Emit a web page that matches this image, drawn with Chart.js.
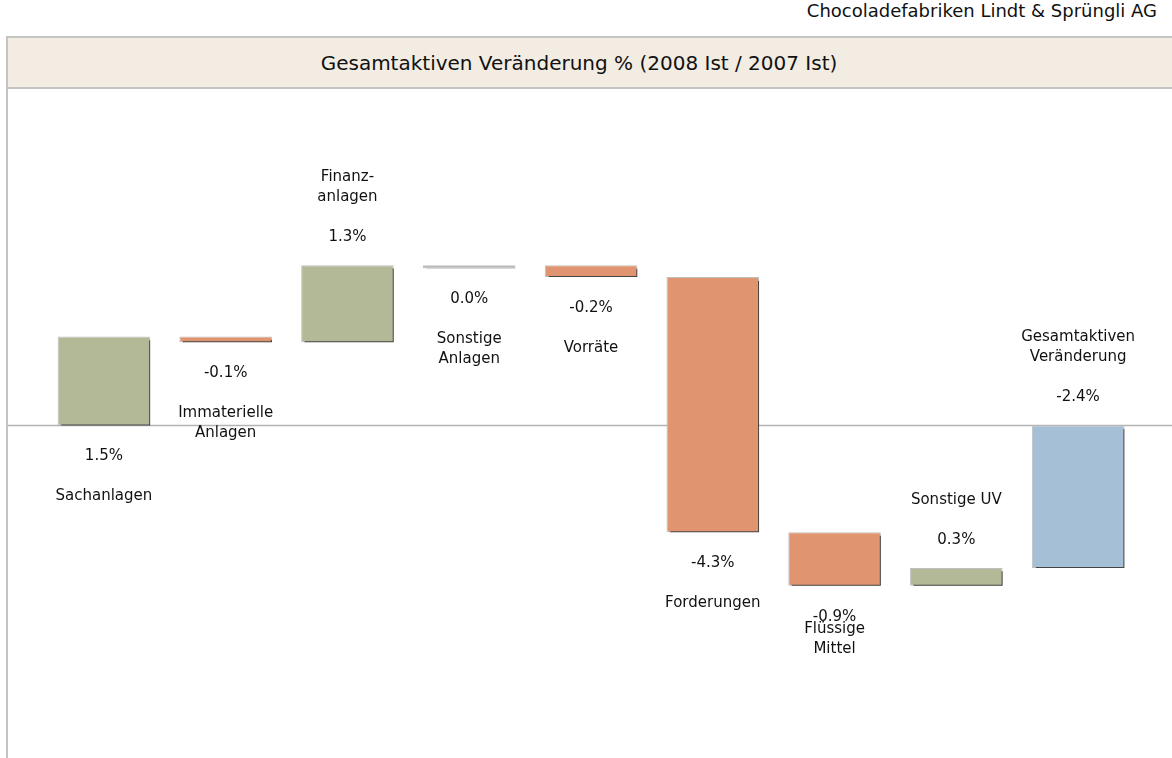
<!DOCTYPE html>
<html>
<head>
<meta charset="utf-8">
<script src="https://cdn.jsdelivr.net/npm/chart.js@4/dist/chart.umd.min.js"></script>
<style>
  body { margin: 0; width: 1172px; height: 758px; background: #fff; overflow: hidden;
         font-family: "DejaVu Sans", sans-serif; position: relative; }
  #company { position: absolute; right: 15px; top: 0px; font-size: 18px; color: #111; }
  #head { position: absolute; left: 6px; top: 36px; width: 1170px; height: 53px;
          background: #f3ece2; border-top: 2px solid #c4c4c4; border-bottom: 2px solid #c4c4c4;
          border-left: 2px solid #c4c4c4; box-sizing: border-box;
          font-size: 20px; color: #111; text-align: center; line-height: 50px; padding-right: 26px; }
  #vline { position: absolute; left: 6px; top: 89px; width: 2px; height: 669px; background: #c4c4c4; }
  #wrap { position: absolute; left: 8px; top: 90px; width: 1164px; height: 668px; }
</style>
</head>
<body>
<div id="company">Chocoladefabriken Lindt &amp; Sprüngli AG</div>
<div id="head">Gesamtaktiven Veränderung % (2008 Ist / 2007 Ist)</div>
<div id="vline"></div>
<div id="wrap"><canvas id="chart"></canvas></div>
<script>
var categories = [
    ["Sachanlagen"],
    ["Immaterielle", "Anlagen"],
    ["Finanz-", "anlagen"],
    ["Sonstige", "Anlagen"],
    ["Vorräte"],
    ["Forderungen"],
    ["Flüssige", "Mittel"],
    ["Sonstige UV"],
    ["Gesamtaktiven", "Veränderung"]
];
var changes = [1.5, -0.1, 1.3, 0.0, -0.2, -4.3, -0.9, 0.3];
var total = -2.4;
var labelSide = ["below", "below", "above", "below", "below", "below", "below", "above", "above"];

var GREEN = "#b3b996", ORANGE = "#e0946f", BLUE = "#a5bfd7", GREY = "#a9a9a9";

// waterfall ranges
var ranges = [], colors = [], shown = [], run = 0;
changes.forEach(function (v) {
    ranges.push([run, run + v]);
    run += v;
    shown.push(v);
    colors.push(v > 0 ? GREEN : (v < 0 ? ORANGE : GREY));
});
ranges.push([0, total]);
shown.push(total);
colors.push(BLUE);

var shadowPlugin = {
    id: "shadow",
    beforeDatasetsDraw: function (chart) {
        var ctx = chart.ctx;
        ctx.save();
        ctx.shadowColor = "rgba(55,55,55,0.9)";
        ctx.shadowOffsetX = 3;
        ctx.shadowOffsetY = 3;
        ctx.shadowBlur = 0.5;
    },
    afterDatasetsDraw: function (chart) {
        chart.ctx.restore();
    }
};

var zeroLine = {
    id: "zeroLine",
    beforeDatasetsDraw: function (chart) {
        var ctx = chart.ctx, y = chart.scales.y.getPixelForValue(0);
        ctx.save();
        ctx.strokeStyle = "#b4b4b4";
        ctx.lineWidth = 1.5;
        ctx.beginPath();
        ctx.moveTo(0, y);
        ctx.lineTo(chart.width, y);
        ctx.stroke();
        ctx.restore();
    }
};

var barLabels = {
    id: "barLabels",
    afterDraw: function (chart) {
        var ctx = chart.ctx;
        var bars = chart.getDatasetMeta(0).data;
        ctx.save();
        ctx.font = "15px 'DejaVu Sans', sans-serif";
        ctx.fillStyle = "#111";
        ctx.textAlign = "center";
        ctx.textBaseline = "middle";
        bars.forEach(function (bar, i) {
            var top = Math.min(bar.y, bar.base), bottom = Math.max(bar.y, bar.base);
            var val = shown[i].toFixed(1) + "%";
            var lines = categories[i];
            if (labelSide[i] === "below") {
                ctx.fillText(val, bar.x, bottom + 31);
                var off = i === 6 ? 43 : 71;
                lines.forEach(function (t, k) { ctx.fillText(t, bar.x, bottom + off + k * 20); });
            } else {
                ctx.fillText(val, bar.x, top - 28);
                lines.forEach(function (t, k) { ctx.fillText(t, bar.x, top - 68 - (lines.length - 1 - k) * 20); });
            }
        });
        ctx.restore();
    }
};

new Chart(document.getElementById("chart"), {
    type: "bar",
    data: {
        labels: categories,
        datasets: [{
            data: ranges,
            backgroundColor: colors,
            borderColor: "#c0c0c0",
            borderWidth: 1,
            borderSkipped: false,
            minBarLength: 3,
            barPercentage: 0.76,
            categoryPercentage: 1
        }]
    },
    options: {
        responsive: true,
        maintainAspectRatio: false,
        animation: false,
        layout: { padding: { left: 35, right: 33, top: 0, bottom: 0 } },
        plugins: { legend: { display: false }, tooltip: { enabled: false } },
        scales: {
            x: { display: false },
            y: { display: false, min: -5.6, max: 5.65 }
        }
    },
    plugins: [zeroLine, shadowPlugin, barLabels]
});
</script>
</body>
</html>
